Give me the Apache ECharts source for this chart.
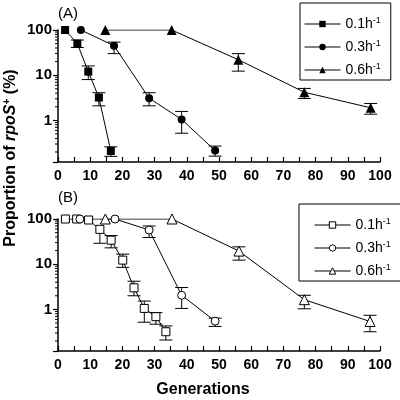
<!DOCTYPE html>
<html><head><meta charset="utf-8">
<script src="https://cdn.jsdelivr.net/npm/echarts@6/dist/echarts.min.js"></script>
<style>html,body{margin:0;padding:0;background:#fff}#c{width:400px;height:400px}</style>
</head><body><div id="c"></div>
<script>
// Panel A (filled markers)
var A01_x = [2.2, 6.0, 9.4, 12.7, 16.4];
var A01_y = [100, 50, 12, 3.2, 0.21];
var A01_lo = [null, 41, 8, 2.1, 0.16];
var A01_hi = [null, 60, 16, 4.1, 0.26];

var A03_x = [7.1, 17.4, 28.3, 38.4, 48.8];
var A03_y = [100, 45, 3.1, 1.05, 0.215];
var A03_lo = [null, 30, 2.1, 0.52, 0.162];
var A03_hi = [null, 54, 4.1, 1.58, 0.27];

var A06_x = [14.7, 35.3, 56.0, 76.5, 97.1];
var A06_y = [100, 100, 22, 4.2, 1.9];
var A06_lo = [null, null, 12.3, 3.05, 1.37];
var A06_hi = [null, null, 30, 5.1, 2.37];

// Panel B (open markers)
var B01_x = [2.3, 5.8, 9.5, 13.0, 16.5, 20.1, 23.6, 26.8, 30.4, 33.5];
var B01_y = [100, 100, 95, 59, 34, 12.3, 3.0, 1.05, 0.69, 0.32];
var B01_lo = [null, null, null, 29, 23, 8.5, 2.0, 0.52, 0.47, 0.21];
var B01_hi = [null, null, null, null, 43, 16.7, 4.2, 1.53, 0.85, 0.43];

var B03_x = [6.8, 17.7, 28.3, 38.4, 48.8];
var B03_y = [100, 100, 57, 2.05, 0.55];
var B03_lo = [null, null, 39, 1.05, 0.42];
var B03_hi = [null, null, 70, 3.05, 0.64];

var B06_x = [14.7, 35.4, 56.2, 76.5, 96.9];
var B06_y = [100, 100, 19.5, 1.64, 0.54];
var B06_lo = [null, null, 12.3, 1.03, 0.32];
var B06_hi = [null, null, 24.2, 2.05, 0.74];

var rateLabels = ['0.1h', '0.3h', '0.6h'];
var xTicks = [0, 10, 20, 30, 40, 50, 60, 70, 80, 90, 100];
var yTicks = [1, 10, 100];
var yMinorDecades = [0.1, 1, 10];

function pts(xs, ys) { return xs.map(function (x, i) { return [x, ys[i]]; }); }
function errs(xs, ys, lo, hi) {
  var out = [];
  xs.forEach(function (x, i) { if (lo[i] != null) out.push([x, lo[i], hi[i] == null ? ys[i] : hi[i], hi[i] == null ? 0 : 1]); });
  return out;
}
function errRender(params, api) {
  var x = api.value(0), lo = api.value(1), hi = api.value(2), hasHi = api.value(3);
  var pLo = api.coord([x, lo]), pHi = api.coord([x, hi]);
  var w = 6.5, st = { stroke: '#000', lineWidth: 1 };
  var ch = [
    { type: 'line', shape: { x1: pLo[0], y1: pLo[1], x2: pHi[0], y2: pHi[1] }, style: st },
    { type: 'line', shape: { x1: pLo[0] - w, y1: pLo[1], x2: pLo[0] + w, y2: pLo[1] }, style: st }
  ];
  if (hasHi) ch.push({ type: 'line', shape: { x1: pHi[0] - w, y1: pHi[1], x2: pHi[0] + w, y2: pHi[1] }, style: st });
  return { type: 'group', children: ch };
}

var FONT = 'Liberation Sans, Arial, sans-serif';

function xAxis(gi) {
  return {
    gridIndex: gi, type: 'value', min: 0, max: 100, interval: 10,
    axisLine: { lineStyle: { color: '#000', width: 1.5 } },
    axisTick: { inside: true, length: 5, lineStyle: { color: '#000', width: 1.2 } },
    minorTick: { show: true, splitNumber: 2, length: 5, lineStyle: { color: '#000', width: 1.2 } },
    axisLabel: { color: '#000', fontWeight: 'bold', fontSize: 14, fontFamily: FONT, margin: 7,
      formatter: function (v) { return xTicks.indexOf(v) >= 0 ? String(v) : ''; } },
    splitLine: { show: false }
  };
}
function yAxis(gi) {
  return {
    gridIndex: gi, type: 'log', logBase: 10, min: 0.12, max: 100,
    axisLine: { lineStyle: { color: '#000', width: 1.5 } },
    axisTick: { inside: false, length: 5, lineStyle: { color: '#000', width: 1.2 } },
    axisLabel: { color: '#000', fontWeight: 'bold', fontSize: 15, fontFamily: FONT, margin: 6,
      formatter: function (v) { var r = Math.round(v); return (Math.abs(v - r) < 1e-6 && yTicks.indexOf(r) >= 0) ? String(r) : ''; } },
    splitLine: { show: false }
  };
}

var symbols = ['rect', 'circle', 'triangle'];
var sizes = [8, 8, 10];
var A = [[A01_x, A01_y, A01_lo, A01_hi], [A03_x, A03_y, A03_lo, A03_hi], [A06_x, A06_y, A06_lo, A06_hi]];
var B = [[B01_x, B01_y, B01_lo, B01_hi], [B03_x, B03_y, B03_lo, B03_hi], [B06_x, B06_y, B06_lo, B06_hi]];

var series = [];
A.forEach(function (d) {
  series.push({ type: 'custom', xAxisIndex: 0, yAxisIndex: 0, renderItem: errRender, data: errs(d[0], d[1], d[2], d[3]), encode: { x: 0, y: [1, 2] }, silent: true, z: 1 });
});
B.forEach(function (d) {
  series.push({ type: 'custom', xAxisIndex: 1, yAxisIndex: 1, renderItem: errRender, data: errs(d[0], d[1], d[2], d[3]), encode: { x: 0, y: [1, 2] }, silent: true, z: 1 });
});
A.forEach(function (d, i) {
  series.push({ name: 'A' + i, type: 'line', xAxisIndex: 0, yAxisIndex: 0, data: pts(d[0], d[1]),
    symbol: symbols[i], symbolSize: sizes[i], showAllSymbol: true, z: 3,
    lineStyle: { color: '#000', width: 1 }, itemStyle: { color: '#000', borderColor: '#000', borderWidth: 0 } });
});
B.forEach(function (d, i) {
  series.push({ name: 'B' + i, type: 'line', xAxisIndex: 1, yAxisIndex: 1, data: pts(d[0], d[1]),
    symbol: symbols[i], symbolSize: sizes[i], showAllSymbol: true, z: 3,
    lineStyle: { color: '#000', width: 1 }, itemStyle: { color: '#fff', borderColor: '#000', borderWidth: 1 } });
});

function legendFmt(name) { return '{t|' + rateLabels[+name.slice(1)] + '}{s|-1}'; }
var legendText = { color: '#000', fontFamily: FONT, fontSize: 14,
  rich: { t: { fontSize: 14, fontFamily: FONT, color: '#000' }, s: { fontSize: 9, fontFamily: FONT, color: '#000', verticalAlign: 'top', padding: [0, 0, 7, 0] } } };

var chart = echarts.init(document.getElementById('c'), null, { renderer: 'canvas' });
chart.setOption({
  animation: false,
  backgroundColor: '#fff',
  grid: [
    { left: 58, top: 30, width: 322, height: 132 },
    { left: 58, top: 219, width: 322, height: 132 }
  ],
  xAxis: [xAxis(0), xAxis(1)],
  yAxis: [yAxis(0), yAxis(1)],
  legend: [
    { data: ['A0', 'A1', 'A2'], orient: 'vertical', left: 300, top: 3, itemWidth: 36, itemHeight: 8, itemGap: 8,
      padding: [13, 10, 3, 4], borderColor: '#000', borderWidth: 1, formatter: legendFmt, textStyle: legendText, selectedMode: false,
      lineStyle: { width: 1, color: '#000' } },
    { data: ['B0', 'B1', 'B2'], orient: 'vertical', left: 299, top: 204, itemWidth: 36, itemHeight: 8, itemGap: 8,
      padding: [13, 11, 3, 15], borderColor: '#000', borderWidth: 1, formatter: legendFmt, textStyle: legendText, selectedMode: false,
      lineStyle: { width: 1, color: '#000' }, itemStyle: { borderWidth: 1 } }
  ],
  series: series
});

var graphics = [
  { type: 'text', left: 58, top: 6, style: { text: '(A)', font: '15px ' + FONT, fill: '#000' } },
  { type: 'text', left: 58, top: 190, style: { text: '(B)', font: '15px ' + FONT, fill: '#000' } },
  { type: 'text', x: 203, y: 390, style: { text: 'Generations', font: 'bold 16px ' + FONT, fill: '#000', align: 'center', verticalAlign: 'middle' } },
  { type: 'text', x: 11, y: 158, rotation: Math.PI / 2,
    style: { text: '{b|Proportion of }{i|rpoS}{s|+}{b| (%)}', align: 'center', verticalAlign: 'middle', fill: '#000',
      rich: { b: { font: 'bold 16px ' + FONT, fill: '#000' }, i: { font: 'italic bold 16px ' + FONT, fill: '#000' }, s: { font: 'bold 10px ' + FONT, fill: '#000', verticalAlign: 'top', padding: [0, 0, 8, 0] } } } }
];

// Log-axis minor ticks (2..9 per decade), positioned through the axis scale
[0, 1].forEach(function (gi) {
  var x0 = chart.convertToPixel({ xAxisIndex: gi }, 0);
  yMinorDecades.forEach(function (d) {
    for (var k = 2; k <= 9; k++) {
      var v = k * d;
      if (v < 0.12 || v > 100) continue;
      var py = chart.convertToPixel({ yAxisIndex: gi }, v);
      graphics.push({ type: 'line', shape: { x1: x0 - 3, y1: py, x2: x0, y2: py }, style: { stroke: '#000', lineWidth: 1 }, silent: true });
    }
  });
});
chart.setOption({ graphic: graphics });
</script>
</body></html>
